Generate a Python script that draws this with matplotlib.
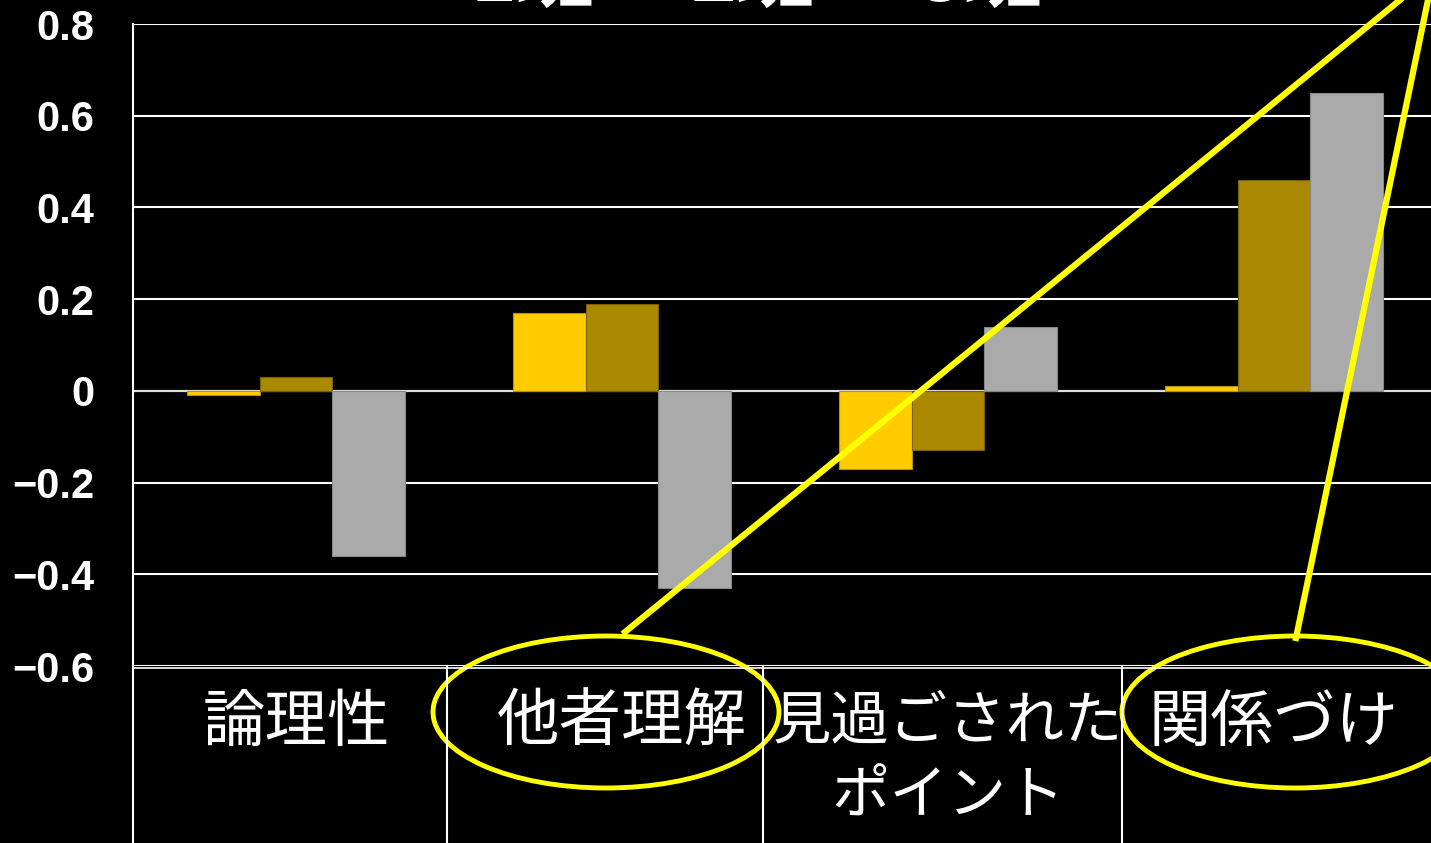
import matplotlib
matplotlib.use("Agg")
import matplotlib.pyplot as plt
from matplotlib.patches import Ellipse
from matplotlib.lines import Line2D
import numpy as np

categories = ["論理性", "他者理解", "見過ごされた\nポイント", "関係づけ"]
series_names = ["1班", "2班", "3班"]
group1 = [-0.01, 0.17, -0.17, 0.01]
group2 = [0.03, 0.19, -0.13, 0.46]
group3 = [-0.36, -0.43, 0.14, 0.65]
colors = ["#FFCC00", "#AA8800", "#AAAAAA"]
edges = ["#B89300", "#7A6200", "#888888"]
yticks = [-0.6, -0.4, -0.2, 0, 0.2, 0.4, 0.6, 0.8]
ytick_labels = ["−0.6", "−0.4", "−0.2", "0", "0.2", "0.4", "0.6", "0.8"]

W, H = 1431, 843
fig = plt.figure(figsize=(W / 100, H / 100), dpi=100, facecolor="black")

def fx(px):
    return px / W

def fy(py):
    return 1 - py / H

ax = fig.add_axes([fx(133), fy(666), fx(1437) - fx(133), fy(24) - fy(666)])
ax.set_facecolor("black")

x = np.arange(len(categories))
bw = 0.223
for i, vals in enumerate([group1, group2, group3]):
    ax.bar(x + (i - 1) * bw, vals, width=bw, color=colors[i],
           edgecolor=edges[i], linewidth=0.8, zorder=3)

ax.set_xlim(-0.5, 3.5)
ax.set_ylim(-0.6, 0.8)
ax.set_yticks(yticks)
ax.set_yticklabels(ytick_labels, fontsize=30, fontweight="bold",
                   family=["Liberation Sans", "DejaVu Sans"], color="white")
ax.tick_params(axis="y", length=0, pad=28)
ax.set_xticks([])
ax.grid(axis="y", color="white", linewidth=1.5, zorder=1)
for side in ["top", "right", "bottom"]:
    ax.spines[side].set_visible(False)
ax.spines["left"].set_color("white")
ax.spines["left"].set_linewidth(1.5)
ax.axhline(0, color="#DDDDDD", linewidth=1.5, zorder=2)

# category labels (table-like area below)
label_sizes = [45, 45, 42, 45]
for xi, lab, fs in zip(x, categories, label_sizes):
    ax.text(xi, -0.6 - 0.055, lab, ha="center", va="top", color="white",
            fontsize=fs, family=["Noto Sans CJK JP", "DejaVu Sans"],
            linespacing=1.3, transform=ax.transData, clip_on=False)

# table lines
for px in [133, 447, 763, 1122]:
    fig.add_artist(Line2D([fx(px), fx(px)], [fy(666), 0], color="white", linewidth=1.5))
fig.add_artist(Line2D([fx(133), 1], [fy(668), fy(668)], color="white", linewidth=1.2))

# legend text peeking at top
for cx, name in zip([532, 752, 980], series_names):
    fig.text(fx(cx), fy(1), name, ha="center", va="baseline", color="white",
             fontsize=56, fontweight="bold", family=["Noto Sans CJK JP", "DejaVu Sans"])

# yellow annotations
yel = "#FFFF00"
fig.add_artist(Line2D([fx(625), fx(1400)], [fy(632), fy(0)], color=yel, linewidth=4.5))
fig.add_artist(Line2D([fx(1296), fx(1428)], [fy(638), fy(0)], color=yel, linewidth=4.5))
for cx in [606, 1295]:
    e = Ellipse((fx(cx), fy(712)), fx(346), 152 / H, transform=fig.transFigure,
                fill=False, edgecolor=yel, linewidth=3.5)
    fig.add_artist(e)

fig.savefig("out.png", dpi=100, facecolor="black")
